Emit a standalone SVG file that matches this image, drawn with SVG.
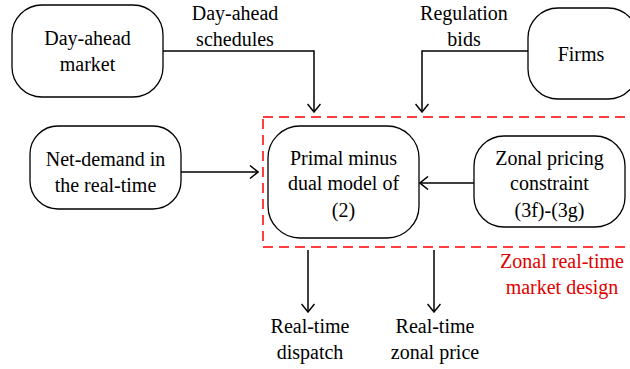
<svg xmlns="http://www.w3.org/2000/svg" width="630" height="369" viewBox="0 0 630 369" font-family="'Liberation Serif', 'Times New Roman', Times, 'DejaVu Serif', serif">
<defs>
<marker id="arr" viewBox="0 0 12 14" refX="11" refY="7" markerWidth="12" markerHeight="14" markerUnits="userSpaceOnUse" orient="auto">
<path d="M3,0.5 L11,7 L3,13.5" fill="none" stroke="#000" stroke-width="1.5"/>
</marker>
<style>
.box{fill:#fff;stroke:#000;stroke-width:1.3}
.t{font-family:'Liberation Serif','Times New Roman',Times,'DejaVu Serif',serif;font-size:20px;fill:#000;text-anchor:middle}
.r{fill:#e00000}
.c{fill:none;stroke:#000;stroke-width:1.5}
</style>
</defs>
<rect width="630" height="369" fill="#fff"/>
<rect x="263" y="117" width="380" height="130" fill="none" stroke="#ff0000" stroke-width="1.5" stroke-dasharray="10,6"/>
<g id="connectors">
<path class="c" d="M163,51 H314 V112" marker-end="url(#arr)"/>
<path class="c" d="M528,51 H422 V112" marker-end="url(#arr)"/>
<path class="c" d="M181,172 H258" marker-end="url(#arr)"/>
<path class="c" d="M474,183 H420" marker-end="url(#arr)"/>
<path class="c" d="M308,250 V312" marker-end="url(#arr)"/>
<path class="c" d="M434,250 V312" marker-end="url(#arr)"/>
</g>
<g id="label-schedules"><text class="t" x="235" y="20">Day-ahead</text><text class="t" x="235" y="46">schedules</text></g>
<g id="label-bids"><text class="t" x="464" y="20">Regulation</text><text class="t" x="464" y="46">bids</text></g>
<g id="dayahead"><rect class="box" x="12" y="5" width="151" height="92" rx="30"/><text class="t" x="87.5" y="45">Day-ahead</text><text class="t" x="87.5" y="71">market</text></g>
<g id="firms"><rect class="box" x="528" y="8" width="110" height="91" rx="30"/><text class="t" x="581" y="61">Firms</text></g>
<g id="netdemand"><rect class="box" x="30" y="126" width="151" height="83" rx="28"/><text class="t" x="105.5" y="166">Net-demand in</text><text class="t" x="105.5" y="192">the real-time</text></g>
<g id="primal"><rect class="box" x="268" y="126" width="151" height="112" rx="32"/><text class="t" x="343.5" y="165">Primal minus</text><text class="t" x="343.5" y="190">dual model of</text><text class="t" x="343.5" y="217">(2)</text></g>
<g id="zonal"><rect class="box" x="474" y="136" width="151" height="91" rx="30"/><text class="t" x="549.5" y="165">Zonal pricing</text><text class="t" x="549.5" y="190">constraint</text><text class="t" x="549.5" y="217">(3f)-(3g)</text></g>
<g id="zonal-label"><text class="t r" x="562" y="268">Zonal real-time</text><text class="t r" x="562" y="294">market design</text></g>
<g id="out-dispatch"><text class="t" x="310" y="333">Real-time</text><text class="t" x="310" y="359">dispatch</text></g>
<g id="out-price"><text class="t" x="435" y="333">Real-time</text><text class="t" x="435" y="359">zonal price</text></g>
</svg>
